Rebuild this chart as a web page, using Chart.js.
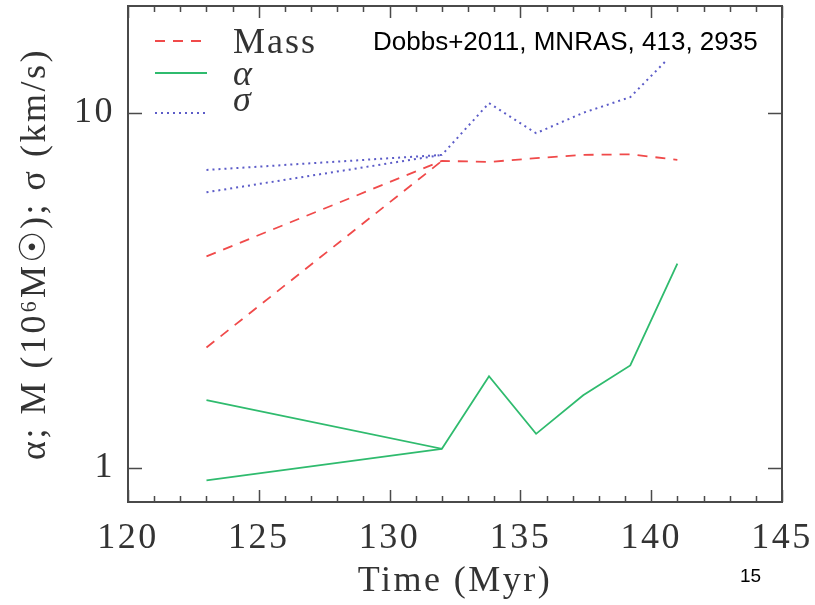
<!DOCTYPE html>
<html>
<head>
<meta charset="utf-8">
<script src="https://cdn.jsdelivr.net/npm/chart.js@4.4.1/dist/chart.umd.min.js"></script>
<style>
  html, body { margin: 0; background: #fff; }
  canvas { display: block; }
</style>
</head>
<body>
<canvas id="chart" width="815" height="605"></canvas>
<script>
// snapshot times (Myr)
const times = [123, 132, 133.8, 135.6, 137.4, 139.2, 141];

// values; at 123 Myr each quantity has a second branch
const massMain = [3.94, 7.32, 7.27, 7.45, 7.61, 7.64, 7.37];
const massAlt123 = 2.18;
const alphaMain = [1.55, 1.13, 1.81, 1.245, 1.60, 1.94, 3.76];
const alphaAlt123 = 0.92;
const sigmaMain = [6.90, 7.61, 10.65, 8.76, 10.0, 11.07, 15.1];
const sigmaAlt123 = 5.97;

// axis ticks
const xStep = 5;
const yLabelled = [1, 10];

const SERIF = "'Liberation Serif', 'DejaVu Serif', serif";
const SANS = "'Liberation Sans', Arial, sans-serif";
const INK = '#333';
const FRAME = '#4a4a4a';

const RED = '#f04a4a';
const GREEN = '#2fbb6e';
const BLUE = '#5c5cc8';

function series(vals) {
  return vals.map((v, i) => ({ x: times[i], y: v }));
}
function branch(first, vals) {
  return [{ x: times[0], y: first }, { x: times[1], y: vals[1] }];
}

const massStyle = { borderColor: RED, borderWidth: 1.8, borderDash: [10, 8] };
const alphaStyle = { borderColor: GREEN, borderWidth: 1.8, borderDash: [] };
const sigmaStyle = { borderColor: BLUE, borderWidth: 2, borderDash: [2, 4] };

const datasets = [
  { label: 'Mass', data: series(massMain), ...massStyle },
  { label: 'Mass (branch)', data: branch(massAlt123, massMain), ...massStyle },
  { label: 'α', data: series(alphaMain), ...alphaStyle },
  { label: 'α (branch)', data: branch(alphaAlt123, alphaMain), ...alphaStyle },
  { label: 'σ', data: series(sigmaMain), ...sigmaStyle },
  { label: 'σ (branch)', data: branch(sigmaAlt123, sigmaMain), ...sigmaStyle }
];

// legend rows: dataset index, line y, text baseline
const legendRows = [
  { ds: 0, text: 'Mass', lineY: 41, baseY: 53, italic: false },
  { ds: 2, text: 'α', lineY: 73, baseY: 85, italic: true },
  { ds: 4, text: 'σ', lineY: 113, baseY: 111, italic: true }
];

const framePlugin = {
  id: 'frame',
  beforeDraw(chart) {
    chart.ctx.letterSpacing = '2.5px';
  },
  afterDatasetsDraw(chart) {
    // white box of the reference note, it hides the end of the sigma curve
    const ctx = chart.ctx;
    ctx.save();
    ctx.fillStyle = '#fff';
    ctx.fillRect(362, 20, 418, 40);
    ctx.restore();
  },
  afterDraw(chart) {
    const { ctx, chartArea: a, scales: { x, y } } = chart;
    ctx.save();
    ctx.letterSpacing = '0px';

    // frame
    ctx.strokeStyle = FRAME;
    ctx.lineWidth = 2;
    ctx.strokeRect(a.left, a.top, a.right - a.left, a.bottom - a.top);

    // inward ticks on all four sides
    ctx.lineWidth = 1.5;
    ctx.beginPath();
    for (let v = Math.ceil(x.min); v <= x.max; v++) {
      const px = Math.round(x.getPixelForValue(v)) + 0.5;
      const len = v % xStep === 0 ? 12 : 6;
      ctx.moveTo(px, a.bottom); ctx.lineTo(px, a.bottom - len);
      ctx.moveTo(px, a.top); ctx.lineTo(px, a.top + len);
    }
    y.ticks.forEach(t => {
      const py = Math.round(y.getPixelForValue(t.value)) + 0.5;
      const major = Math.abs(Math.log10(t.value) % 1) < 1e-9;
      const len = major ? 14 : 8;
      ctx.moveTo(a.left, py); ctx.lineTo(a.left + len, py);
      ctx.moveTo(a.right, py); ctx.lineTo(a.right - len, py);
    });
    ctx.stroke();

    // legend
    legendRows.forEach(row => {
      const ds = chart.data.datasets[row.ds];
      ctx.strokeStyle = ds.borderColor;
      ctx.lineWidth = ds.borderWidth;
      ctx.setLineDash(ds.borderDash || []);
      ctx.beginPath();
      ctx.moveTo(155, row.lineY);
      ctx.lineTo(207, row.lineY);
      ctx.stroke();
      ctx.setLineDash([]);
      ctx.fillStyle = INK;
      ctx.font = (row.italic ? 'italic ' : '') + '36px ' + SERIF;
      ctx.letterSpacing = '2px';
      ctx.textAlign = 'left';
      ctx.textBaseline = 'alphabetic';
      ctx.fillText(row.text, 233, row.baseY);
    });

    // reference note and slide number
    ctx.letterSpacing = '0px';
    ctx.fillStyle = '#000';
    ctx.font = '26px ' + SANS;
    ctx.fillText('Dobbs+2011, MNRAS, 413, 2935', 373, 50);
    ctx.font = '19px ' + SANS;
    ctx.fillText('15', 740, 582);
    ctx.restore();
  }
};

new Chart(document.getElementById('chart'), {
  type: 'line',
  data: { datasets },
  options: {
    responsive: false,
    animation: false,
    layout: { padding: { top: 6, right: 33, left: 0, bottom: 0 } },
    elements: { point: { radius: 0 }, line: { tension: 0 } },
    plugins: { legend: { display: false }, tooltip: { enabled: false } },
    scales: {
      x: {
        type: 'linear',
        min: 120,
        max: 145,
        grid: { display: false, drawTicks: false },
        border: { display: false },
        ticks: {
          stepSize: xStep,
          padding: 15,
          autoSkip: false,
          maxRotation: 0,
          color: INK,
          font: { family: SERIF, size: 36 }
        },
        title: {
          display: true,
          text: 'Time (Myr)',
          color: INK,
          font: { family: SERIF, size: 36 },
          padding: { top: 0, bottom: 2 }
        },
        afterFit: s => { s.height = 103; s.paddingLeft = 0; s.paddingRight = 0; }
      },
      y: {
        type: 'logarithmic',
        min: 0.8,
        max: 20,
        grid: { display: false, drawTicks: false },
        border: { display: false },
        ticks: {
          padding: 13,
          autoSkip: false,
          color: INK,
          font: { family: SERIF, size: 36 },
          callback: v => {
            const hit = yLabelled.find(l => Math.abs(l - v) < 1e-6);
            return hit === undefined ? null : String(hit);
          }
        },
        title: {
          display: true,
          text: 'α; M (10⁶M☉); σ (km/s)',
          color: INK,
          font: { family: SERIF, size: 36 },
          padding: { top: 14, bottom: 0 }
        },
        afterFit: s => { s.width = 128; s.paddingTop = 0; s.paddingBottom = 0; }
      }
    }
  },
  plugins: [framePlugin]
});
</script>
</body>
</html>
